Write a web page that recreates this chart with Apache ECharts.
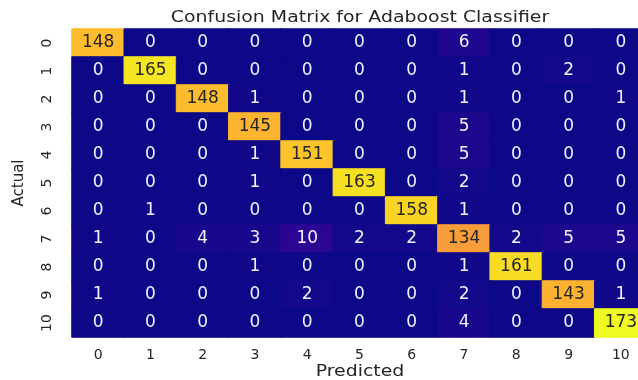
<!DOCTYPE html>
<html>
<head>
<meta charset="utf-8">
<script src="https://cdn.jsdelivr.net/npm/echarts@6/dist/echarts.min.js"></script>
<style>
  html, body { margin: 0; padding: 0; background: #ffffff; }
  #chart { width: 638px; height: 380px; }
</style>
</head>
<body>
<div id="chart"></div>
<script>
// Class labels for both axes
const classes = ['0', '1', '2', '3', '4', '5', '6', '7', '8', '9', '10'];

// Confusion matrix counts, one array per actual class (columns = predicted class)
const row0  = [148, 0, 0, 0, 0, 0, 0, 6, 0, 0, 0];
const row1  = [0, 165, 0, 0, 0, 0, 0, 1, 0, 2, 0];
const row2  = [0, 0, 148, 1, 0, 0, 0, 1, 0, 0, 1];
const row3  = [0, 0, 0, 145, 0, 0, 0, 5, 0, 0, 0];
const row4  = [0, 0, 0, 1, 151, 0, 0, 5, 0, 0, 0];
const row5  = [0, 0, 0, 1, 0, 163, 0, 2, 0, 0, 0];
const row6  = [0, 1, 0, 0, 0, 0, 158, 1, 0, 0, 0];
const row7  = [1, 0, 4, 3, 10, 2, 2, 134, 2, 5, 5];
const row8  = [0, 0, 0, 1, 0, 0, 0, 1, 161, 0, 0];
const row9  = [1, 0, 0, 0, 2, 0, 0, 2, 0, 143, 1];
const row10 = [0, 0, 0, 0, 0, 0, 0, 4, 0, 0, 173];
const rows = [row0, row1, row2, row3, row4, row5, row6, row7, row8, row9, row10];

// Plasma colour ramp
const plasma = ['#0d0887', '#41049d', '#6a00a8', '#8f0da4', '#b12a90', '#cc4778',
                '#e16462', '#f2844b', '#fca636', '#fcce25', '#f0f921'];

let vmax = 0;
rows.forEach(r => r.forEach(v => { if (v > vmax) vmax = v; }));

// Each cell is filled from the ramp; the border uses the same colour so
// neighbouring cells meet without hairline seams.
const cells = [];
rows.forEach((r, yi) => {
  r.forEach((v, xi) => {
    const c = echarts.color.lerp(v / vmax, plasma);
    cells.push({
      value: [xi, yi, v],
      itemStyle: { color: c, borderColor: c, borderWidth: 1 },
      label: { color: v / vmax > 0.45 ? '#262626' : '#f0f0fa' }
    });
  });
});

const font = 'DejaVu Sans, sans-serif';
const textColor = '#262626';
const stretch = 1.26;   // wide lettering for the headings

const chart = echarts.init(document.getElementById('chart'), null, { renderer: 'canvas' });

chart.setOption({
  animation: false,
  backgroundColor: '#ffffff',
  // the matrix runs a little past the right edge of the canvas
  grid: { left: 72, top: 29, width: 575, height: 308, outerBoundsMode: 'none', containLabel: false },
  xAxis: {
    type: 'category',
    data: classes,
    axisLine: { show: false },
    axisTick: { show: false },
    splitLine: { show: false },
    axisLabel: { fontFamily: font, fontSize: 14, color: textColor, margin: 11 }
  },
  yAxis: {
    type: 'category',
    data: classes,
    inverse: true,
    axisLine: { show: false },
    axisTick: { show: false },
    splitLine: { show: false },
    axisLabel: { fontFamily: font, fontSize: 14, color: textColor, rotate: 90, margin: 18 }
  },
  graphic: [
    {
      type: 'text', x: 360, y: 18, scaleX: stretch,
      style: {
        text: 'Confusion Matrix for Adaboost Classifier',
        fontFamily: font, fontSize: 15, fill: textColor,
        align: 'center', verticalAlign: 'middle'
      }
    },
    {
      type: 'text', x: 360, y: 372, scaleX: stretch,
      style: {
        text: 'Predicted',
        fontFamily: font, fontSize: 15, fill: textColor,
        align: 'center', verticalAlign: 'middle'
      }
    },
    {
      type: 'text', x: 19, y: 183, rotation: Math.PI / 2,
      style: {
        text: 'Actual',
        fontFamily: font, fontSize: 15, fill: textColor,
        align: 'center', verticalAlign: 'middle'
      }
    }
  ],
  series: [{
    type: 'heatmap',
    data: cells,
    label: { show: true, fontFamily: font, fontSize: 17 },
    emphasis: { disabled: true }
  }]
});
</script>
</body>
</html>
